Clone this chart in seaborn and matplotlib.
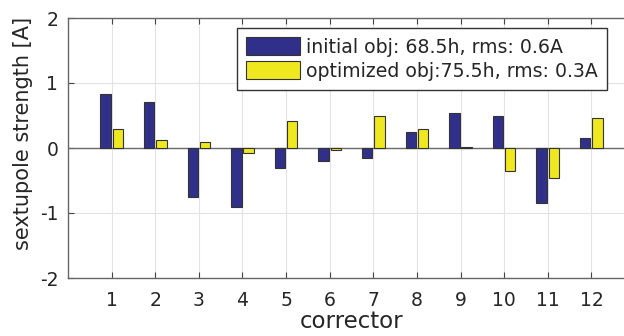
import numpy as np
import pandas as pd
import matplotlib
matplotlib.use("Agg")
import matplotlib.pyplot as plt
import seaborn as sns

correctors = [str(i) for i in range(1, 13)]
initial = [0.83, 0.71, -0.75, -0.91, -0.30, -0.20, -0.15, 0.25, 0.54, 0.49, -0.84, 0.16]
optimized = [0.29, 0.13, 0.09, -0.07, 0.42, -0.03, 0.49, 0.29, 0.02, -0.35, -0.46, 0.46]
series_names = ["initial obj: 68.5h, rms: 0.6A", "optimized obj:75.5h, rms: 0.3A"]
y_ticks = [-2, -1, 0, 1, 2]

df = pd.DataFrame({
    "corrector": correctors * 2,
    "value": initial + optimized,
    "series": [series_names[0]] * 12 + [series_names[1]] * 12,
})

sns.set_theme(style="white")
plt.rcParams['font.family'] = ['DejaVu Sans']

fig = plt.figure(figsize=(6.24, 3.36), dpi=100)
ax = fig.add_axes([68/624, 58/336, (635-68)/624, 260/336])

sns.barplot(data=df, x="corrector", y="value", hue="series", ax=ax,
            palette=["#30308a", "#f0e81e"], width=0.56, gap=0.15,
            edgecolor="#333333", linewidth=0.8, saturation=1, zorder=3)

ax.set_xlim(-1, 12)
ax.set_ylim(-2, 2)
ax.set_yticks(y_ticks)
ax.set_yticklabels([str(t) for t in y_ticks])
ax.grid(True, color="#e3e3e3", linewidth=0.8, zorder=0)
ax.set_axisbelow(True)
ax.axhline(0, color="#6a6a6a", linewidth=1.0, zorder=2)

for s in ["top", "bottom", "left", "right"]:
    ax.spines[s].set_color("#666666")
    ax.spines[s].set_linewidth(1.0)
ax.tick_params(direction="in", length=4, width=0.8, color="#444444",
               top=True, bottom=True, left=True, right=False,
               labelsize=13.5, labelcolor="#262626")
ax.tick_params(axis="x", pad=9)
ax.tick_params(axis="y", pad=7)

ax.set_xlabel("corrector", fontsize=16.5, color="#262626", labelpad=0)
ax.set_ylabel("sextupole strength [A]", fontsize=15, color="#262626")
ax.yaxis.set_label_coords(-0.062, 0.556)

leg = ax.legend(loc="upper left", bbox_to_anchor=(237/624, 1-28/336),
                bbox_transform=fig.transFigure, fontsize=13.6, frameon=True,
                fancybox=False, edgecolor="#333333", framealpha=1,
                handlelength=2.85, handleheight=1.05, handletextpad=0.3,
                borderpad=0.5, labelspacing=0.25, borderaxespad=0)
leg.get_frame().set_linewidth(1.0)
for t in leg.get_texts():
    t.set_color("#262626")

fig.savefig("out.png", dpi=100)
